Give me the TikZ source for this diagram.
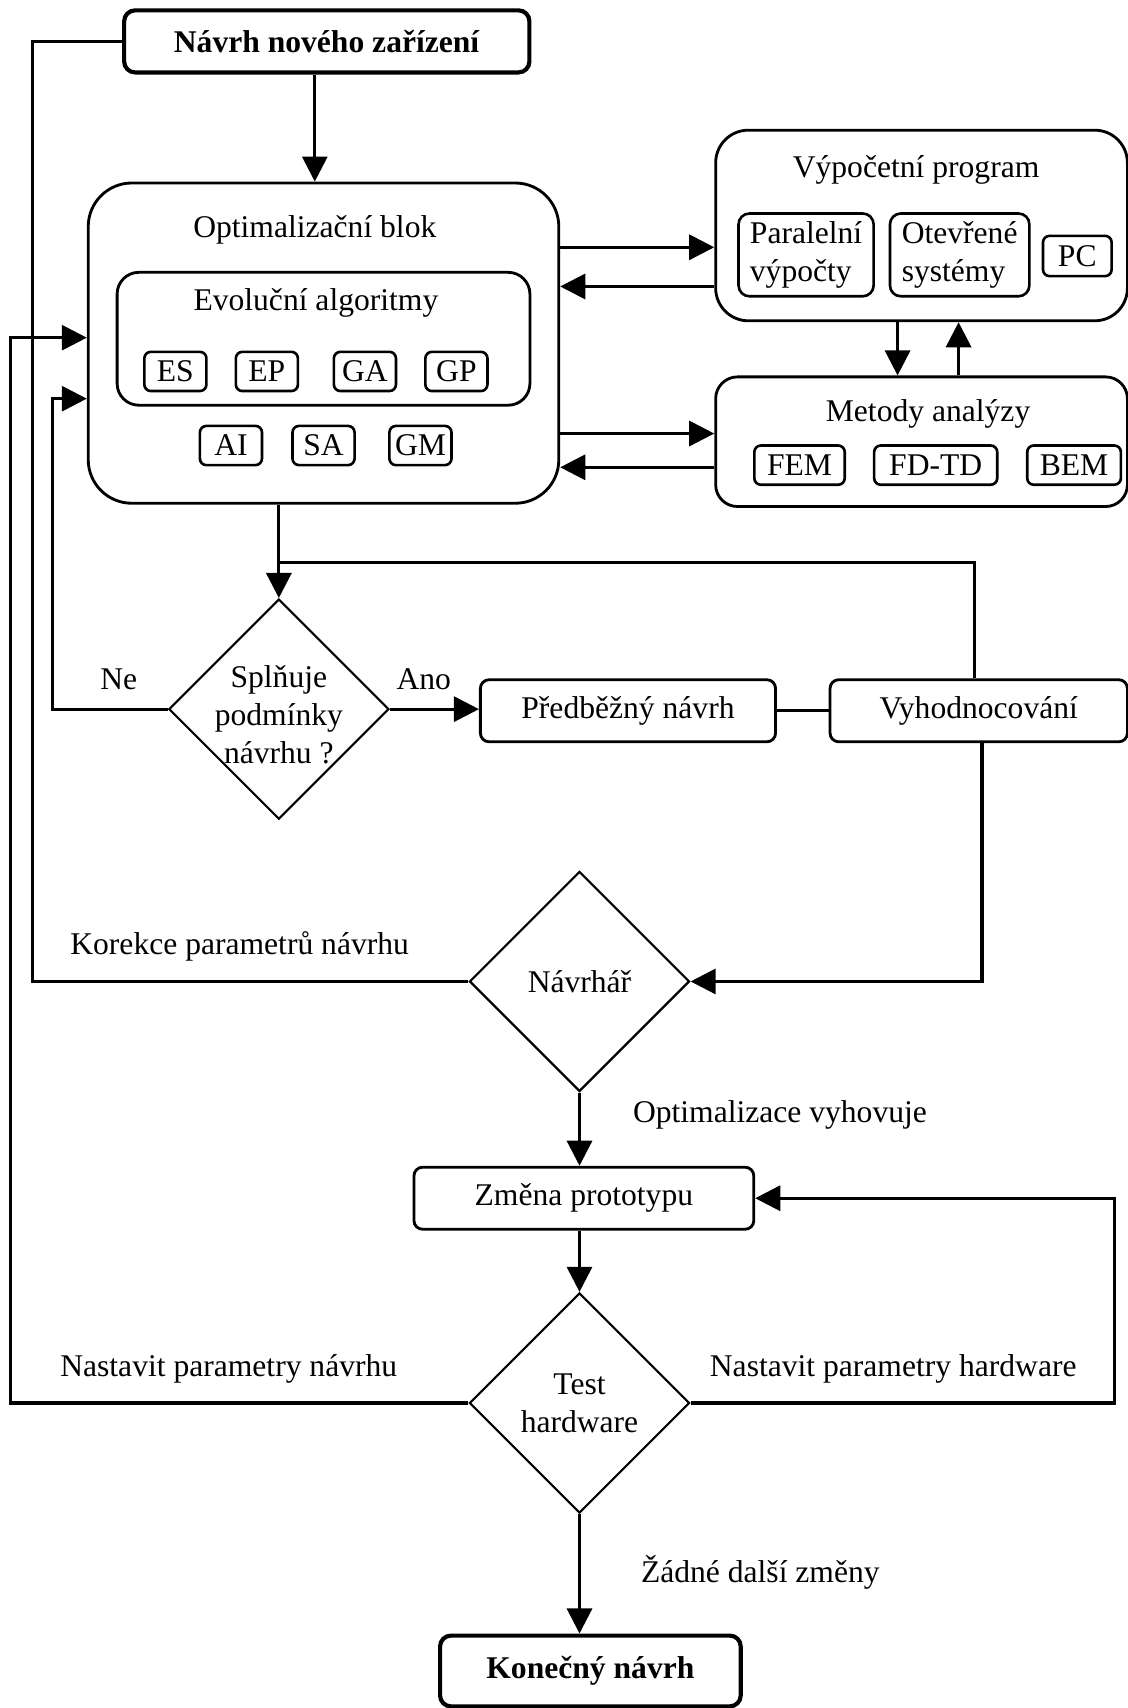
\documentclass[tikz,border=0pt]{standalone}
\usepackage{fontspec}
\setmainfont{Liberation Serif}
\usetikzlibrary{arrows.meta}
\usetikzlibrary{shapes.geometric}

\begin{document}
\begin{tikzpicture}[x=0.5pt, y=-0.5pt, every node/.style={font=\fontsize{14.5}{17.5}\selectfont}]
	\tikzstyle{blok}=[draw, rounded corners=4pt, line width=1.3pt, inner sep=0pt, minimum height=28.5pt]
	\tikzstyle{hlavni}=[blok, line width=1.9pt, rounded corners=5pt]
	\tikzstyle{maly}=[draw, rounded corners=3pt, line width=1.2pt, inner sep=0pt, minimum width=28.5pt, minimum height=18pt]
	\tikzstyle{rozhod}=[draw, diamond, line width=1pt, inner sep=0pt, minimum width=101pt, minimum height=101pt, align=center]
	\tikzstyle{popis}=[inner sep=0pt, align=center]
	\tikzstyle{cara}=[line width=1.4pt]
	\tikzstyle{sipka}=[cara, -{Triangle[length=11.5pt, width=11.5pt]}]
	\useasboundingbox (0,0) rectangle (1035,1568);

			\node[hlavni, minimum width=186pt] (1) at (300,38) {\textbf{Návrh nového zařízení}};

			% optimalizacni blok
			\node[blok, rounded corners=20pt, minimum width=216pt, minimum height=147pt] (2) at (297,315) {};
			\node[popis] (2t) at (289,211) {Optimalizační blok};
			\node[blok, rounded corners=10pt, minimum width=189.5pt, minimum height=61pt] (2e) at (297,311) {};
			\node[popis] (2et) at (290,278) {Evoluční algoritmy};
			\node[maly] (es) at (161,341) {ES};
			\node[maly] (ep) at (245,341) {EP};
			\node[maly] (ga) at (335,341) {GA};
			\node[maly] (gp) at (419,341) {GP};
			\node[maly] (ai) at (212,409) {AI};
			\node[maly] (sa) at (297,409) {SA};
			\node[maly] (gm) at (386,409) {GM};

			% vypocetni program a metody
			\node[blok, rounded corners=15pt, minimum width=189pt, minimum height=87.5pt] (3) at (846,207) {};
			\node[popis] (3t) at (841,156) {Výpočetní program};
			\node[maly, rounded corners=5pt, minimum width=62pt, minimum height=38pt, align=left] (par) at (740,234) {Paralelní\\výpočty};
			\node[maly, rounded corners=5pt, minimum width=64pt, minimum height=38pt, align=left] (ote) at (881,234) {Otevřené\\systémy};
			\node[maly, minimum width=31.5pt, minimum height=18.5pt] (pc) at (989,235) {PC};

			\node[blok, rounded corners=10pt, minimum width=189pt, minimum height=59.5pt] (4) at (846,405.5) {};
			\node[popis] (4t) at (852,380) {Metody analýzy};
			\node[maly, minimum width=41.5pt] (fem) at (734,427) {FEM};
			\node[maly, minimum width=56.5pt] (fdtd) at (859,427) {FD-TD};
			\node[maly, minimum width=43pt] (bem) at (986,427) {BEM};

			% rozhodovani
			\node[rozhod] (5) at (256,651) {};
			\node[popis] (5t) at (256,656) {Splňuje\\podmínky\\návrhu ?};
			\node[blok, minimum width=135.5pt] (6) at (576.5,652.5) {Předběžný návrh};
			\node[blok, minimum width=136.5pt] (7) at (898.5,652.5) {Vyhodnocování};
			\node[rozhod] (8) at (532,901) {Návrhář};
			\node[blok, minimum width=156pt] (9) at (536,1100) {Změna prototypu};
			\node[rozhod] (10) at (532,1288) {Test\\hardware};
			\node[hlavni, minimum width=138pt, minimum height=32.5pt] (11) at (542,1534) {\textbf{Konečný návrh}};

			\node[popis] (ne) at (109,624) {Ne};
			\node[popis] (ano) at (389,624) {Ano};
			\node[popis] (kor) at (220,869) {Korekce parametrů návrhu};
			\node[popis] (vyh) at (716,1024) {Optimalizace vyhovuje};
			\node[popis] (nn) at (210,1257) {Nastavit parametry návrhu};
			\node[popis] (nh) at (820,1257) {Nastavit parametry hardware};
			\node[popis] (zad) at (698,1443) {Žádné další změny};

			\coordinate (v1) at ([yshift=-10pt]3.west);
			\coordinate (v2) at ([yshift=-28pt]3.west);
			\coordinate (m1) at ([yshift=3.75pt]4.west);
			\coordinate (m2) at ([yshift=-11.75pt]4.west);
			\coordinate (j) at (256,516);
			\coordinate (kn) at (48,366);
			\coordinate (kk) at (30,38);
			\coordinate (kt) at (10,310);
			\coordinate (kh) at (1023,1288);

			\draw[sipka] (2t |- 1.south) -- (2t |- 2.north);
			\draw[sipka] (2.east |- v1) -- (v1);
			\draw[sipka] (v2) -- (2.east |- v2);
			\draw[sipka] (2.east |- m1) -- (m1);
			\draw[sipka] (m2) -- (2.east |- m2);
			\draw[sipka] ([xshift=-11pt]3.south) -- ([xshift=-11pt]4.north);
			\draw[sipka] ([xshift=17pt]4.north) -- ([xshift=17pt]3.south);
			\draw[sipka] (2.south -| 5) -- (5.north);
			\draw[cara] ([xshift=-1.75pt]7.north) |- (j);
			\draw[sipka] (5.west) -| (kn) -- (2.west |- kn);
			\draw[sipka] (5.east) -- (6.west |- 5.east);
			\draw[cara] (6) -- (7);
			\draw[sipka] ([xshift=1.5pt]7.south) |- (8.east);
			\draw[cara] (8.west) -| (kk) -- (1.west);
			\draw[sipka] (8.south) -- (8.south |- 9.north);
			\draw[sipka] (10.north |- 9.south) -- (10.north);
			\draw[sipka] (10.west) -| (kt) -- (2.west |- kt);
			\draw[sipka] (10.east) -- (kh) |- (9.east);
			\draw[sipka] (10.south) -- (10.south |- 11.north);
 	\end{tikzpicture}
\end{document}
